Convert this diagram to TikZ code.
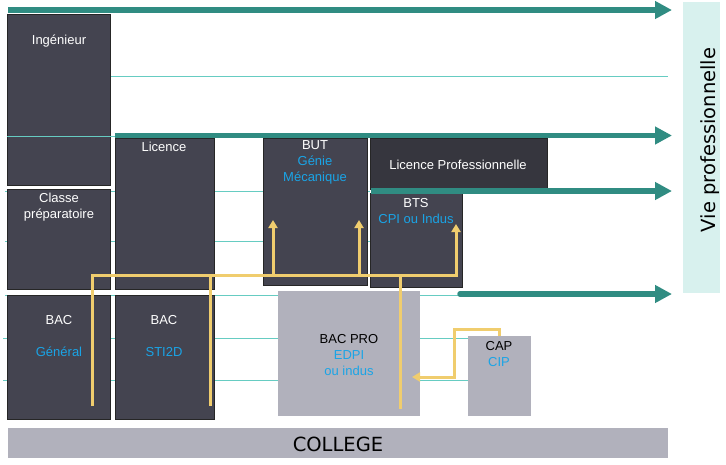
\documentclass[tikz,border=0pt]{standalone}
\usepackage{fontspec}
\setmainfont{Liberation Sans}
\newfontfamily\bigfont{DejaVu Sans}
\usetikzlibrary{arrows.meta}

\definecolor{boxgray}{HTML}{444450}
\definecolor{licgray}{HTML}{36363E}
\definecolor{progray}{HTML}{B1B1BC}
\definecolor{tealdark}{HTML}{308C82}
\definecolor{tealthin}{HTML}{66CCC2}
\definecolor{viebg}{HTML}{D8F1EE}
\definecolor{ochre}{HTML}{F0CD6E}
\definecolor{skyblue}{HTML}{1AA4E6}

\tikzset{
  darkbox/.style={draw=black!85, line width=0.6pt, fill=boxgray, anchor=north west, inner sep=0pt},
  lightbox/.style={fill=progray, anchor=north west, inner sep=0pt},
  wtext/.style={text=white, font=\fontsize{13}{16}\selectfont, align=center, anchor=base, inner sep=0pt},
  btext/.style={wtext, text=black},
  thinline/.style={draw=tealthin, line width=1pt},
  bigarrow/.style={draw=tealdark, line width=5.5pt, -{Triangle[length=17pt,width=17pt]}},
  yline/.style={draw=ochre, line width=3pt},
  yarrow/.style={yline, -{Triangle[length=8pt,width=9pt]}}
}

\begin{document}
\begin{tikzpicture}[x=1pt,y=-1pt]
	\useasboundingbox (0,0) rectangle (726,464);

	\draw[thinline] (110,76) -- (668,76);
	\foreach \y in {191,241}
		\draw[thinline] (5,\y) -- (370,\y);
	\draw[thinline] (5,295) -- (460,295);
	\foreach \y in {338,380}
		\draw[thinline] (3,\y) -- (468,\y);

	\node[darkbox, minimum width=103, minimum height=171] (ing) at (7,14) {};
	\node[darkbox, minimum width=103, minimum height=100] (prepa) at (7,189) {};
	\node[darkbox, minimum width=103, minimum height=124] (bacg) at (7,295) {};
	\node[darkbox, minimum width=99, minimum height=151] (lic) at (115,138) {};
	\node[darkbox, minimum width=99, minimum height=124] (bacs) at (115,295) {};
	\node[darkbox, minimum width=104, minimum height=147] (but) at (263,138) {};
	\node[darkbox, fill=licgray, minimum width=177, minimum height=51] (licpro) at (370,138) {};
	\node[darkbox, minimum width=92, minimum height=94] (bts) at (370,193) {};
	\node[lightbox, minimum width=142, minimum height=125] (bacpro) at (278,291) {};
	\node[lightbox, minimum width=63, minimum height=80] (cap) at (468,336) {};
	\node[lightbox, minimum width=660, minimum height=30] (college) at (8,428) {};
	\node[fill=viebg, anchor=north west, inner sep=0pt, minimum width=37, minimum height=291] (vie) at (683,2) {};

	% anchor=base is the baseline of the last line
	\node[wtext] (ingtxt) at (59,44) {Ingénieur};
	\node[wtext] (prepatxt) at (59,218) {Classe\\préparatoire};
	\node[wtext] (bacgtxt) at (59,356) {BAC\\[16pt]\textcolor{skyblue}{Général}};
	\node[wtext] (lictxt) at (164,151) {Licence};
	\node[wtext] (bacstxt) at (164,356) {BAC\\[16pt]\textcolor{skyblue}{STI2D}};
	\node[wtext] (buttxt) at (315,181) {BUT\\\textcolor{skyblue}{Génie}\\\textcolor{skyblue}{Mécanique}};
	\node[wtext] (licprotxt) at (458,169) {Licence Professionnelle};
	\node[wtext] (btstxt) at (416,223) {BTS\\\textcolor{skyblue}{CPI ou Indus}};
	\node[btext] (bacprotxt) at (349,375) {BAC PRO\\\textcolor{skyblue}{EDPI}\\\textcolor{skyblue}{ou indus}};
	\node[btext] (captxt) at (499,366) {CAP\\\textcolor{skyblue}{CIP}};
	\node[btext, font=\bigfont\fontsize{19.5}{20}\selectfont] (collegetxt) at (338,451) {COLLEGE};
	\node[font=\bigfont\fontsize{19.5}{20}\selectfont, rotate=90] (vietxt) at (710,140) {Vie professionnelle};

	\draw[thinline] (7,136) -- (115,136);

	% sorties vers la vie professionnelle
	\coordinate (tip) at (672,0);
	\coordinate (a1) at (8,10);
	\coordinate (a2) at (115,135.5);
	\coordinate (a3) at (371,191);
	\coordinate (a4) at (460,294);
	\draw[bigarrow] (a1) -- (a1 -| tip);
	\draw[bigarrow] (a2) -- (a2 -| tip);
	\draw[bigarrow] (a3) -- (a3 -| tip);
	\draw[bigarrow, line cap=round] (a4) -- (a4 -| tip);

	\coordinate (g0) at (92,406);
	\coordinate (s0) at (210,406);
	\coordinate (p0) at (400,409);
	\coordinate (r1) at (456,275);
	\coordinate (t1) at (456,224);
	\coordinate (b1) at (273,220);
	\coordinate (b2) at (359,220);
	\coordinate (c1) at (454,329);
	\coordinate (c2) at (412,377);
	\draw[yarrow] (g0) |- (r1) -- (t1);
	\draw[yline] (s0) -- (s0 |- r1);
	\draw[yline] (p0) -- (p0 |- r1);
	\draw[yarrow] (b1 |- r1) -- (b1);
	\draw[yarrow] (b2 |- r1) -- (b2);
	\draw[yarrow] (cap.north) |- (c1) |- (c2);
\end{tikzpicture}
\end{document}
